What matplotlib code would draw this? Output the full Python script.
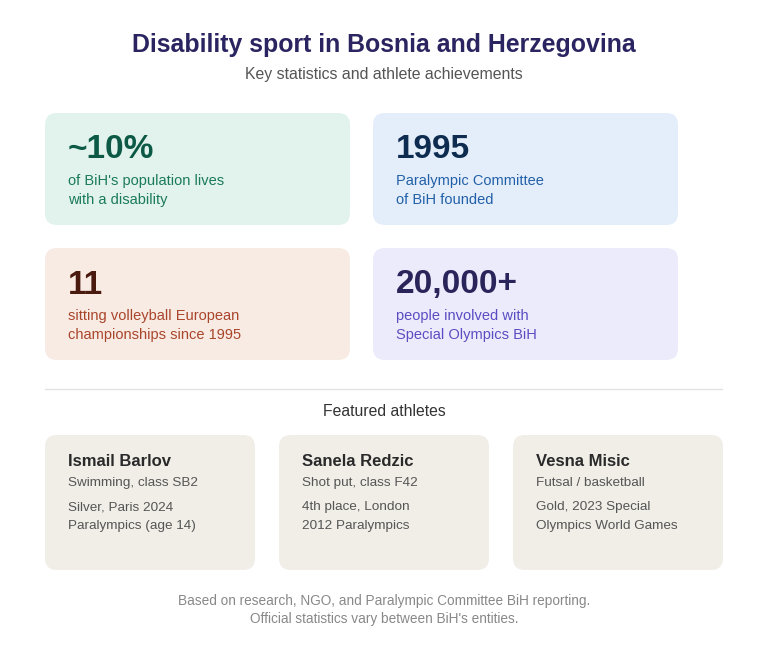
import matplotlib
matplotlib.use('Agg')
import matplotlib.pyplot as plt
from matplotlib.patches import FancyBboxPatch

plt.rcParams['font.family'] = ['Liberation Sans', 'DejaVu Sans']

# ── Data ─────────────────────────────────────────────────────
title = 'Disability sport in Bosnia and Herzegovina'
subtitle = 'Key statistics and athlete achievements'

stat_values = ['~10%', '1995', '11', '20,000+']
stat_labels = [
    "of BiH's population lives\nwith a disability",
    'Paralympic Committee\nof BiH founded',
    'sitting volleyball European\nchampionships since 1995',
    'people involved with\nSpecial Olympics BiH',
]

athlete_names = ['Ismail Barlov', 'Sanela Redzic', 'Vesna Misic']
athlete_sports = ['Swimming, class SB2', 'Shot put, class F42', 'Futsal / basketball']
athlete_results = [
    'Silver, Paris 2024\nParalympics (age 14)',
    '4th place, London\n2012 Paralympics',
    'Gold, 2023 Special\nOlympics World Games',
]

footer = ("Based on research, NGO, and Paralympic Committee BiH reporting.\n"
          "Official statistics vary between BiH's entities.")

# ── Styles ───────────────────────────────────────────────────
STAT_STYLE = [
    # background, number colour, label colour
    ('#e1f3ec', '#0c5a45', '#1b7a5b'),
    ('#e4eefa', '#0e2c4f', '#2160a8'),
    ('#f8ebe4', '#4b1a0f', '#a9452b'),
    ('#ecebfb', '#29245a', '#5a4cc2'),
]
ATHLETE_BG = '#f1eee8'

W, H = 768, 655
fig = plt.figure(figsize=(W / 100, H / 100), dpi=100)
ax = fig.add_axes([0, 0, 1, 1])
ax.set_xlim(0, W)
ax.set_ylim(H, 0)
ax.axis('off')
fig.patch.set_facecolor('white')


def card(x, y, w, h, color, r=12):
    ax.add_patch(FancyBboxPatch((x + r, y + r), w - 2 * r, h - 2 * r,
                                boxstyle=f'round,pad={r}',
                                facecolor=color, edgecolor='none', zorder=1))


def lines(x, y, text, step, **kw):
    for i, line in enumerate(text.split('\n')):
        ax.text(x, y + i * step, line, va='center', zorder=2, **kw)


# ── Header ───────────────────────────────────────────────────
ax.text(W / 2, 45, title, ha='center', va='center', fontsize=17.9,
        fontweight='bold', color='#2a2560')
ax.text(W / 2, 75, subtitle, ha='center', va='center', fontsize=11.4,
        color='#555555')

# ── Stat cards ───────────────────────────────────────────────
card_x = [45, 373]
card_y = [113, 248]
for i, (val, lab) in enumerate(zip(stat_values, stat_labels)):
    bg, c_num, c_lab = STAT_STYLE[i]
    x = card_x[i % 2]
    y = card_y[i // 2]
    card(x, y, 305, 112, bg)
    ax.text(x + 23, y + 37, val, ha='left', va='center', fontsize=24,
            fontweight='bold', color=c_num, zorder=2)
    lines(x + 23, y + 68, lab, 19, ha='left', fontsize=10.5, color=c_lab)

# ── Divider + athletes ───────────────────────────────────────
ax.plot([45, 722], [389, 389], color='#e3e3e3', lw=1)
ax.text(W / 2, 411, 'Featured athletes', ha='center', va='center',
        fontsize=11.3, color='#333333')

ath_x = [45, 279, 513]
for x, name, sport, res in zip(ath_x, athlete_names, athlete_sports, athlete_results):
    card(x, 435, 210, 135, ATHLETE_BG)
    ax.text(x + 23, 462, name, ha='left', va='center', fontsize=12,
            fontweight='bold', color='#2a2a2a', zorder=2)
    ax.text(x + 23, 483, sport, ha='left', va='center', fontsize=9.7,
            color='#555555', zorder=2)
    lines(x + 23, 507, res, 19, ha='left', fontsize=9.7, color='#555555')

# ── Footer ───────────────────────────────────────────────────
lines(W / 2, 601, footer, 18, ha='center', fontsize=9.8, color='#888888')

fig.savefig('out.png', dpi=100, facecolor='white')
